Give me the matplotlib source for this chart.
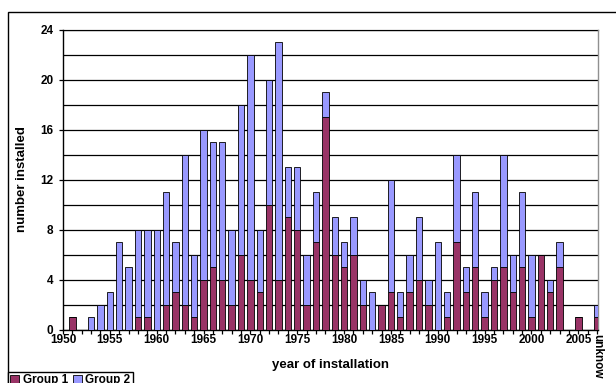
import numpy as np
import matplotlib
matplotlib.use("Agg")
import matplotlib.pyplot as plt
from matplotlib.patches import Rectangle
from matplotlib.ticker import MultipleLocator

plt.rcParams['font.family'] = ['Liberation Sans', 'DejaVu Sans']
plt.rcParams['font.weight'] = 'bold'

# categories: 1950..2006 then unknown
years = [str(y) for y in range(1950, 2007)] + ['unknow']

group1 = [0, 1, 0, 0, 0, 0, 0, 0, 1, 1,
          0, 2, 3, 2, 1, 4, 5, 4, 2, 6,
          4, 3, 10, 4, 9, 8, 2, 7, 17, 6,
          5, 6, 2, 0, 2, 3, 1, 3, 4, 2,
          0, 1, 7, 3, 5, 1, 4, 5, 3, 5,
          1, 6, 3, 5, 0, 1, 0, 1]
totals = [0, 1, 0, 1, 2, 3, 7, 5, 8, 8,
          8, 11, 7, 14, 6, 16, 15, 15, 8, 18,
          22, 8, 20, 23, 13, 13, 6, 11, 19, 9,
          7, 9, 4, 3, 2, 12, 3, 6, 9, 4,
          7, 3, 14, 5, 11, 3, 5, 14, 6, 11,
          6, 6, 4, 7, 0, 1, 0, 2]
group2 = [t - g for t, g in zip(totals, group1)]

labelled = ['1950', '1955', '1960', '1965', '1970', '1975', '1980',
            '1985', '1990', '1995', '2000', '2005', 'unknow']

col1 = '#993366'
col2 = '#9999ff'

fig = plt.figure(figsize=(6.16, 3.83), dpi=100)
W, H = 616, 383
ax = fig.add_axes([63 / W, 1 - 329.5 / H, 535 / W, 300 / H])

x = np.arange(len(years))
ax.bar(x, group1, width=0.68, color=col1, edgecolor='black', linewidth=0.6,
       zorder=3, label='Group 1')
ax.bar(x, group2, bottom=group1, width=0.68, color=col2, edgecolor='black',
       linewidth=0.6, zorder=3, label='Group 2')

ax.set_xlim(0, 57.1)
ax.set_ylim(0, 24)
ax.yaxis.set_major_locator(MultipleLocator(4))
ax.yaxis.set_minor_locator(MultipleLocator(2))
ax.grid(axis='y', which='both', color='black', linewidth=0.9, zorder=0)
ax.tick_params(axis='y', which='major', length=3, width=0.9, labelsize=8.5, pad=4)
ax.tick_params(axis='y', which='minor', length=0)

ax.set_xticks(x)
ax.set_xticklabels([y if y in labelled else '' for y in years])
ax.tick_params(axis='x', length=3, width=0.9, labelsize=8.5, pad=0)
for t in ax.get_xticklabels():
    if t.get_text() == 'unknow':
        t.set_rotation(-90)
        t.set_va('top')

for s in ['top', 'right']:
    ax.spines[s].set_color('#909090')
    ax.spines[s].set_linewidth(1.0)
for s in ['left', 'bottom']:
    ax.spines[s].set_color('black')
    ax.spines[s].set_linewidth(1.0)
ax.spines['top'].set_zorder(1)

ax.set_ylabel('number installed', fontsize=9.5, fontweight='bold')
ax.yaxis.set_label_coords(-35 / 535, 0.5)
ax.set_xlabel('year of installation', fontsize=9.5, fontweight='bold', va='center')
ax.xaxis.set_label_coords(0.5, -35.5 / 300)

# chart frame
fig.patches.append(Rectangle((8 / W, -0.2), 1.2, 1 - 12 / H + 0.2,
                             transform=fig.transFigure, fill=False,
                             edgecolor='black', linewidth=1.0))

leg = fig.legend(loc='upper left', bbox_to_anchor=(8 / W, 1 - 372 / H), ncol=2,
                 fontsize=8.5, frameon=True, fancybox=False, edgecolor='black',
                 framealpha=1, borderpad=0.2, handlelength=0.75, handleheight=0.75,
                 handletextpad=0.3, columnspacing=0.4, borderaxespad=0)
leg.get_frame().set_linewidth(1.0)

fig.savefig('out.png', dpi=100)
